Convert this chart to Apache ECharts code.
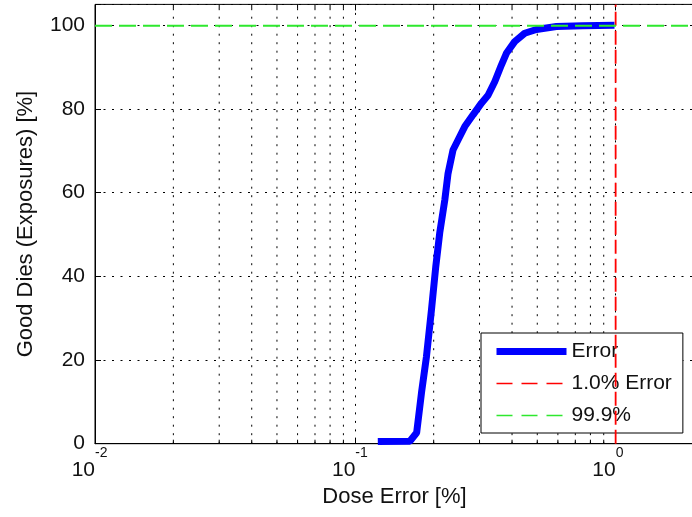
<!DOCTYPE html>
<html><head><meta charset="utf-8">
<script src="https://cdn.jsdelivr.net/npm/echarts@6/dist/echarts.min.js"></script>
<style>html,body{margin:0;padding:0;background:#fff}#c{width:692px;height:517px}</style>
</head><body><div id="c"></div>
<script>
// ---- data ----
const errX = [0.122, 0.162, 0.172, 0.1795, 0.1876, 0.1961, 0.2037, 0.211, 0.2206, 0.2271, 0.2373, 0.2481, 0.2633, 0.2833, 0.3051, 0.3235, 0.3432, 0.364, 0.3805, 0.4095, 0.4474, 0.4961, 0.5921, 0.7469, 0.99];
const errY = [0.5, 0.6, 2.6, 12.1, 20.8, 32.0, 42.3, 50.4, 58.2, 64.6, 70.2, 72.6, 75.8, 78.6, 81.4, 83.3, 86.5, 90.5, 93.3, 96.1, 98.1, 99.0, 99.7, 99.9, 100];
const limitErrX = [1.0, 1.0];
const limitErrY = [0, 105];
const goodX = [0.01, 2];
const goodY = [99.9, 99.9];
const xMinor = [0.02, 0.03, 0.04, 0.05, 0.06, 0.07, 0.08, 0.09, 0.2, 0.3, 0.4, 0.5, 0.6, 0.7, 0.8, 0.9];
const yTickLabels = ['0', '20', '40', '60', '80', '100'];
const seriesNames = ['Error', '1.0% Error', '99.9%'];
const xAxisTitle = 'Dose Error [%]';
const yAxisTitle = 'Good Dies (Exposures) [%]';

const FONT = "'Liberation Sans', Arial, Helvetica, sans-serif";
const X_MIN = 0.01, X_MAX = 2, Y_MIN = 0, Y_MAX = 105;
const dotted = [2, 6.5];
const BLUE = '#0000ff', RED = '#ff0000', GREEN = '#2ee82e';

function expOf(v) {
  const e = Math.log10(v), r = Math.round(e);
  return Math.abs(e - r) < 1e-6 ? r : null;
}
const zip = (a, b) => a.map((x, i) => [x, b[i]]);

const chart = echarts.init(document.getElementById('c'), null, { renderer: 'canvas' });
const baseX = {
  type: 'log', logBase: 10, min: X_MIN, max: X_MAX, gridIndex: 0,
};
chart.setOption({
  animation: false,
  backgroundColor: '#fff',
  grid: { left: 95, top: 4.4, width: 599, height: 439.3, show: true, borderColor: '#000', borderWidth: 1, backgroundColor: '#fff', containLabel: false, outerBoundsMode: 'none' },
  legend: {
    data: [
      { name: seriesNames[0], lineStyle: { width: 7, color: BLUE } },
      { name: seriesNames[1], lineStyle: { width: 1.5, color: RED, type: [16, 9] } },
      { name: seriesNames[2], lineStyle: { width: 1.5, color: GREEN, type: [16, 9] } }
    ],
    orient: 'vertical', left: 481, top: 333,
    backgroundColor: '#fff', borderColor: '#000', borderWidth: 1,
    padding: [8, 11, 7, 12], itemWidth: 70, itemHeight: 14, itemGap: 11,
    selectedMode: false,
    itemStyle: { opacity: 0 },
    textStyle: { fontFamily: FONT, fontSize: 21, color: '#111' }
  },
  xAxis: [
    Object.assign({}, baseX, {
      position: 'bottom',
      name: xAxisTitle, nameLocation: 'middle', nameGap: 42,
      nameTextStyle: { fontFamily: FONT, fontSize: 22, color: '#111' },
      axisLine: { show: true, lineStyle: { color: '#000', width: 1 } },
      axisTick: { show: true, inside: true, length: 6, lineStyle: { color: '#000' } },
      axisLabel: {
        show: true, margin: 2, align: 'left', showMinLabel: true, showMaxLabel: true,
        fontFamily: FONT, fontSize: 14, color: '#111',
        formatter: v => { const e = expOf(v); return e === null || v > 1.5 ? '' : String(e); }
      },
      splitLine: { show: true, lineStyle: { color: '#000', width: 1, type: dotted } }
    }),
    Object.assign({}, baseX, {
      position: 'bottom',
      axisLine: { show: false }, axisTick: { show: false }, splitLine: { show: false },
      axisLabel: {
        show: true, margin: 16, align: 'right', showMinLabel: true, showMaxLabel: true,
        fontFamily: FONT, fontSize: 21, color: '#111',
        formatter: v => { const e = expOf(v); return e === null || v > 1.5 ? '' : '10'; }
      }
    }),
    Object.assign({}, baseX, {
      position: 'top',
      axisLine: { show: false }, splitLine: { show: false }, axisLabel: { show: false },
      axisTick: { show: true, inside: true, length: 6, lineStyle: { color: '#000' } }
    })
  ],
  yAxis: {
    type: 'value', min: Y_MIN, max: Y_MAX, interval: 20,
    name: yAxisTitle, nameLocation: 'middle', nameGap: 58,
    nameTextStyle: { fontFamily: FONT, fontSize: 22, color: '#111' },
    axisLine: { show: true, lineStyle: { color: '#000', width: 1 } },
    axisTick: { show: true, inside: true, length: 6, lineStyle: { color: '#000' } },
    axisLabel: {
      margin: 10, fontFamily: FONT, fontSize: 21, color: '#111',
      formatter: v => { const i = Math.round(v / 20); return (v <= 100 && Math.abs(v - i * 20) < 1e-6) ? yTickLabels[i] : ''; }
    },
    splitLine: { show: true, lineStyle: { color: '#000', width: 1, type: dotted } }
  },
  series: [
    {
      type: 'custom', name: 'minorgrid', silent: true, z: 1,
      data: xMinor.map(x => [x, 0]), encode: { x: 0, y: 1 },
      renderItem: (params, api) => {
        const x = api.value(0);
        const b = api.coord([x, Y_MIN]);
        const t = api.coord([x, Y_MAX]);
        return {
          type: 'group', children: [
            { type: 'line', shape: { x1: b[0], y1: b[1], x2: t[0], y2: t[1] }, style: { stroke: '#000', lineWidth: 1, lineDash: dotted } },
            { type: 'line', shape: { x1: b[0], y1: b[1], x2: b[0], y2: b[1] - 4 }, style: { stroke: '#000', lineWidth: 1 } },
            { type: 'line', shape: { x1: t[0], y1: t[1], x2: t[0], y2: t[1] + 4 }, style: { stroke: '#000', lineWidth: 1 } }
          ]
        };
      }
    },
    {
      type: 'line', name: seriesNames[0], data: zip(errX, errY), symbol: 'none', smooth: false, z: 3,
      lineStyle: { color: BLUE, width: 7 }, itemStyle: { color: BLUE }
    },
    {
      type: 'line', name: seriesNames[1], data: zip(limitErrX, limitErrY), symbol: 'none', z: 4,
      lineStyle: { color: RED, width: 1.8, type: [14, 5] }, itemStyle: { color: RED }
    },
    {
      type: 'line', name: seriesNames[2], data: zip(goodX, goodY), symbol: 'none', z: 5,
      lineStyle: { color: GREEN, width: 1.8, type: [17, 7] }, itemStyle: { color: GREEN }
    }
  ]
});
</script></body></html>
